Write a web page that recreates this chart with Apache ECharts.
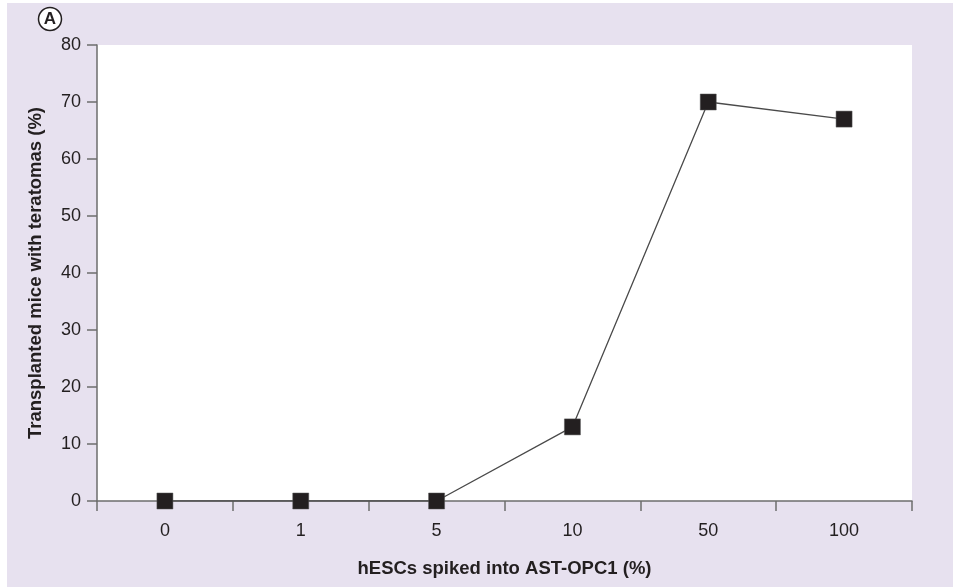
<!DOCTYPE html>
<html>
<head>
<meta charset="utf-8">
<script src="https://cdn.jsdelivr.net/npm/echarts@6/dist/echarts.min.js"></script>
<style>
html, body { margin: 0; padding: 0; background: #ffffff; }
#chart { position: absolute; left: 7px; top: 3px; width: 946px; height: 584px; background: #e7e1ef; }
</style>
</head>
<body>
<div id="chart"></div>
<script>
// hESCs spiked into AST-OPC1 (%)
var categories = ['0', '1', '5', '10', '50', '100'];
// transplanted mice with teratomas (%)
var teratomaPct = [0, 0, 0, 13, 70, 67];
var yTicks = [0, 10, 20, 30, 40, 50, 60, 70, 80];

var chart = echarts.init(document.getElementById('chart'));
var axisGray = '#6d6d6d';
var textDark = '#231f20';

var option = {
  animation: false,
  backgroundColor: 'transparent',
  textStyle: { fontFamily: 'Liberation Sans, Arial, sans-serif' },
  grid: {
    show: true,
    left: 90,
    right: 41,
    top: 42,
    bottom: 86,
    backgroundColor: '#ffffff',
    borderWidth: 0
  },
  graphic: [
    {
      type: 'circle',
      shape: { cx: 43, cy: 16, r: 11.5 },
      style: { fill: '#ffffff', stroke: textDark, lineWidth: 1.5 }
    },
    {
      type: 'text',
      x: 43, y: 16.5,
      style: {
        text: 'A', fill: textDark, fontSize: 17, fontWeight: 'bold',
        fontFamily: 'Liberation Sans, Arial, sans-serif',
        align: 'center', verticalAlign: 'middle'
      }
    }
  ],
  xAxis: {
    type: 'category',
    data: categories,
    boundaryGap: true,
    name: 'hESCs spiked into AST-OPC1 (%)',
    nameLocation: 'middle',
    nameGap: 58,
    nameTextStyle: { fontSize: 18.5, fontWeight: 'bold', color: textDark },
    axisLine: { lineStyle: { color: axisGray, width: 1.5 } },
    axisTick: { show: true, length: 10, interval: 0, lineStyle: { color: axisGray, width: 1.5 } },
    axisLabel: { margin: 21, fontSize: 18, color: textDark },
    splitLine: { show: false }
  },
  yAxis: {
    type: 'value',
    min: yTicks[0],
    max: yTicks[yTicks.length - 1],
    interval: 10,
    name: 'Transplanted mice with teratomas (%)',
    nameLocation: 'middle',
    nameGap: 52,
    nameTextStyle: { fontSize: 18.5, fontWeight: 'bold', color: textDark },
    axisLine: { show: true, lineStyle: { color: axisGray, width: 1.5 } },
    axisTick: { show: true, length: 10, lineStyle: { color: axisGray, width: 1.5 } },
    axisLabel: { margin: 16, fontSize: 18, color: textDark },
    splitLine: { show: false }
  },
  series: [
    {
      type: 'line',
      data: teratomaPct,
      symbol: 'rect',
      symbolSize: 16,
      itemStyle: { color: textDark, borderColor: '#555', borderWidth: 0.5 },
      lineStyle: { color: '#4a4a4a', width: 1.3 },
      z: 5
    }
  ]
};

chart.setOption(option);
</script>
</body>
</html>
